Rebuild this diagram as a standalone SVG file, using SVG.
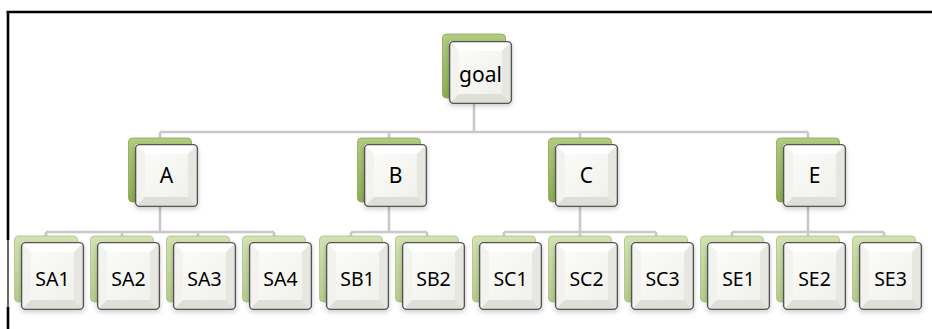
<svg xmlns="http://www.w3.org/2000/svg" xmlns:xlink="http://www.w3.org/1999/xlink" width="932" height="329" viewBox="0 0 932 329">
<style>
.frame{stroke:#000;stroke-width:2.6;fill:none}
.thin{stroke:#000;stroke-width:1.2;fill:none}
.conn{stroke:#c8c8c8;stroke-width:2.6;fill:none}
.gd{fill:url(#gG);stroke:#8aa653;stroke-width:0.8}
.gl{fill:url(#gL);stroke:#a9bf80;stroke-width:0.8}
.t1{font-family:"Noto Sans","Open Sans",sans-serif;font-size:21px;fill:#000;text-anchor:middle}
.t2{font-family:"Noto Sans","Open Sans",sans-serif;font-size:19.5px;fill:#000;text-anchor:middle}
.sh{filter:url(#ds)}
</style>
<defs>
<linearGradient id="gG" x1="0" y1="0" x2="0" y2="1"><stop offset="0" stop-color="#b0cc80"/><stop offset="1" stop-color="#8cad52"/></linearGradient>
<linearGradient id="gL" x1="0" y1="0" x2="0" y2="1"><stop offset="0" stop-color="#d2e3b2"/><stop offset="1" stop-color="#b5cb8c"/></linearGradient>
<linearGradient id="gC" x1="0" y1="0" x2="1" y2="1"><stop offset="0" stop-color="#fdfdfb"/><stop offset="1" stop-color="#eeeee9"/></linearGradient>
<filter id="ds" x="-20%" y="-20%" width="140%" height="150%"><feDropShadow dx="0" dy="2" stdDeviation="2.5" flood-color="#000" flood-opacity="0.2"/></filter>
<clipPath id="cM"><rect x="0" y="0" width="63" height="63" rx="4"/></clipPath>
<clipPath id="cS"><rect x="0" y="0" width="63" height="68" rx="4"/></clipPath>
<g id="faceM">
<g clip-path="url(#cM)">
<rect x="0" y="0" width="63" height="63" fill="url(#gC)"/>
<polygon points="0,0 63,0 53,10 10,10" fill="#ffffff"/>
<polygon points="0,0 10,10 10,53 0,63" fill="#f2f2ee"/>
<polygon points="63,0 63,63 53,53 53,10" fill="#e7e7e2"/>
<polygon points="0,63 63,63 53,53 10,53" fill="#dfdfd9"/>
</g>
<rect x="0.6" y="0.6" width="61.8" height="61.8" rx="4" fill="none" stroke="#555" stroke-width="1.4"/>
</g>
<g id="faceS">
<g clip-path="url(#cS)">
<rect x="0" y="0" width="63" height="68" fill="url(#gC)"/>
<polygon points="0,0 63,0 53,10 10,10" fill="#ffffff"/>
<polygon points="0,0 10,10 10,58 0,68" fill="#f2f2ee"/>
<polygon points="63,0 63,68 53,58 53,10" fill="#e7e7e2"/>
<polygon points="0,68 63,68 53,58 10,58" fill="#dfdfd9"/>
</g>
<rect x="0.6" y="0.6" width="61.8" height="66.8" rx="4" fill="none" stroke="#555" stroke-width="1.4"/>
</g>
</defs>

<rect x="0" y="0" width="932" height="329" fill="#fff"/>

<g id="frame">
<line class="frame" x1="6.7" y1="12" x2="932" y2="12"/>
<line class="frame" x1="8" y1="11" x2="8" y2="240"/>
<line class="thin" x1="8" y1="240" x2="8" y2="307"/>
<line class="frame" x1="8" y1="307" x2="8" y2="329"/>
</g>

<g id="connectors">
<path class="conn" d="M474,100 V132 M160,132 H808 M160,132 V140 M389,132 V140 M580,132 V140 M808,132 V140"/>
<path class="conn" d="M160,205 V232 M46,232 H274 M46,232 V238 M122,232 V238 M198,232 V238 M274,232 V238"/>
<path class="conn" d="M389,205 V232 M351,232 H427 M351,232 V238 M427,232 V238"/>
<path class="conn" d="M580,205 V232 M504,232 H656 M504,232 V238 M580,232 V238 M656,232 V238"/>
<path class="conn" d="M808,205 V232 M732,232 H884 M732,232 V238 M808,232 V238 M884,232 V238"/>
</g>

<g id="node-goal">
<rect class="gd" x="442.5" y="34" width="63" height="64" rx="4"/>
<use xlink:href="#faceM" class="sh" x="449" y="41"/>
<text class="t1" x="480.5" y="82">goal</text>
</g>

<g id="node-A">
<rect class="gd" x="128.5" y="138" width="63" height="64" rx="4"/>
<use xlink:href="#faceM" class="sh" x="135" y="144"/>
<text class="t1" x="166.5" y="183">A</text>
</g>
<g id="node-B">
<rect class="gd" x="357.5" y="138" width="63" height="64" rx="4"/>
<use xlink:href="#faceM" class="sh" x="364" y="144"/>
<text class="t1" x="395.5" y="183">B</text>
</g>
<g id="node-C">
<rect class="gd" x="548.5" y="138" width="63" height="64" rx="4"/>
<use xlink:href="#faceM" class="sh" x="555" y="144"/>
<text class="t1" x="586.5" y="183">C</text>
</g>
<g id="node-E">
<rect class="gd" x="776.5" y="138" width="63" height="64" rx="4"/>
<use xlink:href="#faceM" class="sh" x="783" y="144"/>
<text class="t1" x="814.5" y="183">E</text>
</g>

<g id="node-SA1"><rect class="gl" x="14.5" y="236" width="63" height="66" rx="4"/><use xlink:href="#faceS" class="sh" x="21" y="242"/><text class="t2" x="52.5" y="286">SA1</text></g>
<g id="node-SA2"><rect class="gl" x="90.5" y="236" width="63" height="66" rx="4"/><use xlink:href="#faceS" class="sh" x="97" y="242"/><text class="t2" x="128.5" y="286">SA2</text></g>
<g id="node-SA3"><rect class="gl" x="166.5" y="236" width="63" height="66" rx="4"/><use xlink:href="#faceS" class="sh" x="173" y="242"/><text class="t2" x="204.5" y="286">SA3</text></g>
<g id="node-SA4"><rect class="gl" x="242.5" y="236" width="63" height="66" rx="4"/><use xlink:href="#faceS" class="sh" x="249" y="242"/><text class="t2" x="280.5" y="286">SA4</text></g>
<g id="node-SB1"><rect class="gl" x="319.5" y="236" width="63" height="66" rx="4"/><use xlink:href="#faceS" class="sh" x="326" y="242"/><text class="t2" x="357.5" y="286">SB1</text></g>
<g id="node-SB2"><rect class="gl" x="395.5" y="236" width="63" height="66" rx="4"/><use xlink:href="#faceS" class="sh" x="402" y="242"/><text class="t2" x="433.5" y="286">SB2</text></g>
<g id="node-SC1"><rect class="gl" x="472.5" y="236" width="63" height="66" rx="4"/><use xlink:href="#faceS" class="sh" x="479" y="242"/><text class="t2" x="510.5" y="286">SC1</text></g>
<g id="node-SC2"><rect class="gl" x="548.5" y="236" width="63" height="66" rx="4"/><use xlink:href="#faceS" class="sh" x="555" y="242"/><text class="t2" x="586.5" y="286">SC2</text></g>
<g id="node-SC3"><rect class="gl" x="624.5" y="236" width="63" height="66" rx="4"/><use xlink:href="#faceS" class="sh" x="631" y="242"/><text class="t2" x="662.5" y="286">SC3</text></g>
<g id="node-SE1"><rect class="gl" x="700.5" y="236" width="63" height="66" rx="4"/><use xlink:href="#faceS" class="sh" x="707" y="242"/><text class="t2" x="738.5" y="286">SE1</text></g>
<g id="node-SE2"><rect class="gl" x="776.5" y="236" width="63" height="66" rx="4"/><use xlink:href="#faceS" class="sh" x="783" y="242"/><text class="t2" x="814.5" y="286">SE2</text></g>
<g id="node-SE3"><rect class="gl" x="852.5" y="236" width="63" height="66" rx="4"/><use xlink:href="#faceS" class="sh" x="859" y="242"/><text class="t2" x="890.5" y="286">SE3</text></g>
</svg>
